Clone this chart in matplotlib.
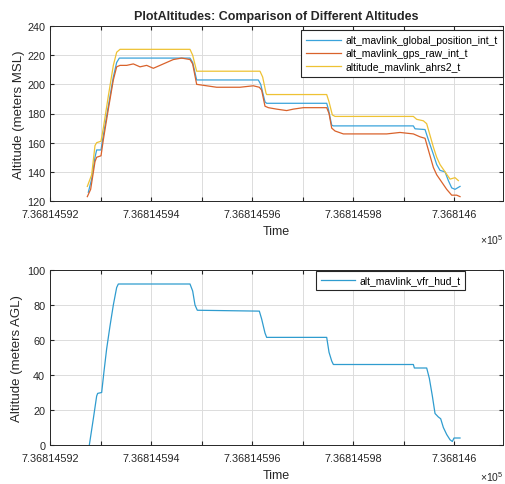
import matplotlib
matplotlib.use("Agg")
import matplotlib.pyplot as plt
import numpy as np

plt.rcParams['font.family'] = ['Liberation Sans', 'DejaVu Sans']
plt.rcParams['mathtext.fontset'] = 'custom'
plt.rcParams['mathtext.rm'] = 'Liberation Sans'
plt.rcParams['mathtext.it'] = 'Liberation Sans:italic'

T0 = 736814.592  # base datenum
# time offsets in thousandths of a day from T0
t_gpi = [0.759, 0.825, 0.891, 0.924, 1.010, 1.056, 1.155, 1.254, 1.320, 1.373, 2.772, 2.825, 2.904,
         4.125, 4.172, 4.257, 4.290, 5.479, 5.512, 5.578, 5.611, 7.195, 7.228, 7.426, 7.492, 7.591,
         7.657, 7.723, 7.822, 7.888, 7.954, 8.020, 8.119]
alt_gpi = [126, 135, 150, 155, 155, 165, 185, 205, 215, 218, 218, 215, 203,
           203, 200, 188, 187, 187, 183, 172, 171.5, 171.5, 169.5, 169, 162, 152,
           145, 141, 140, 134, 129, 128, 130]

t_gps = [0.739, 0.805, 0.891, 0.924, 1.010, 1.056, 1.155, 1.254, 1.320, 1.386, 1.518, 1.650, 1.782,
         1.914, 2.046, 2.178, 2.310, 2.442, 2.607, 2.772, 2.825, 2.904, 3.102, 3.300, 3.564, 3.762,
         4.026, 4.145, 4.191, 4.257, 4.323, 4.488, 4.686, 4.818, 5.017, 5.281, 5.479, 5.525, 5.578,
         5.644, 5.809, 6.139, 6.403, 6.667, 6.931, 7.195, 7.327, 7.426, 7.492, 7.591, 7.657, 7.756,
         7.855, 7.954, 8.053, 8.119]
alt_gps = [123, 128, 147, 150, 151, 162, 183, 203, 212, 213, 213, 214, 212,
           213, 211, 213, 215, 217, 218, 217, 214, 200, 199, 198, 198, 198,
           199, 198, 196, 185, 184, 183, 182, 183, 184, 184, 184, 180, 170,
           168, 166, 166, 166, 166, 167, 166, 164, 163, 155, 143, 138, 133,
           128, 124, 124, 123]

t_ahrs = [0.739, 0.825, 0.891, 0.924, 1.010, 1.056, 1.155, 1.254, 1.320, 1.386, 2.772, 2.825, 2.904,
          4.158, 4.211, 4.277, 4.290, 5.479, 5.525, 5.591, 5.644, 7.195, 7.261, 7.393, 7.459, 7.525,
          7.591, 7.657, 7.723, 7.822, 7.921, 8.020, 8.086]
alt_ahrs = [130, 138, 158, 160, 161, 170, 192, 213, 222, 224, 224, 220, 209,
            209, 205, 194, 193, 193, 188, 179, 178, 178, 176, 175, 173, 165,
            157, 150, 145, 140, 135, 136, 134]

t_hud = [0.779, 0.858, 0.924, 0.944, 1.023, 1.069, 1.122, 1.188, 1.254, 1.320, 1.353, 2.772, 2.825,
         2.871, 2.917, 4.145, 4.191, 4.257, 4.290, 5.479, 5.525, 5.578, 5.611, 7.195, 7.215, 7.459,
         7.512, 7.571, 7.624, 7.690, 7.736, 7.789, 7.855, 7.921, 7.967, 8.000, 8.119]
alt_hud = [0, 15, 28, 29.5, 30, 42, 55, 68, 80, 90, 92, 92, 88,
           80, 77, 76.5, 72, 64, 61.5, 61.5, 53, 48, 46, 46, 44, 44,
           38, 28, 18, 16, 15, 10, 6, 3, 2, 4, 4]

labels_top = ['alt_mavlink_global_position_int_t', 'alt_mavlink_gps_raw_int_t', 'altitude_mavlink_ahrs2_t']
label_bot = 'alt_mavlink_vfr_hud_t'
xtick_vals = [0, 1, 2, 3, 4, 5, 6, 7, 8]
xtick_labels = ['7.36814592', '', '7.36814594', '', '7.36814596', '', '7.36814598', '', '7.368146']

colors = ['#3aa3db', '#d9622b', '#eec234']
hud_color = '#2f9ccf'

fig = plt.figure(figsize=(5.05, 4.85), dpi=100)
ax1 = fig.add_axes([50/505, 1-202/485, 453/505, 175/485])
ax2 = fig.add_axes([50/505, 1-446/485, 453/505, 175/485])

def tt(a):
    return T0 + np.array(a) * 1e-3

ax1.plot(tt(t_gpi), alt_gpi, color=colors[0], lw=0.9, label=labels_top[0])
ax1.plot(tt(t_gps), alt_gps, color=colors[1], lw=0.9, label=labels_top[1])
ax1.plot(tt(t_ahrs), alt_ahrs, color=colors[2], lw=0.9, label=labels_top[2])
ax2.plot(tt(t_hud), alt_hud, color=hud_color, lw=0.9, label=label_bot)

xmin = T0
xmax = T0 + 8.97e-3
for ax, off, xl, yl in ((ax1, -0.215, -0.171, -0.068), (ax2, -0.18, -0.171, -0.073)):
    ax.set_xlim(xmin, xmax)
    ax.set_xticks(tt(xtick_vals))
    ax.set_xticklabels(xtick_labels)
    ax.grid(True, color='#dcdcdc', lw=0.7)
    ax.set_axisbelow(True)
    ax.tick_params(direction='in', length=3, labelsize=7.8, colors='#262626', top=True, right=True,
                   labeltop=False, labelright=False)
    ax.tick_params(axis='x', pad=6)
    ax.tick_params(axis='y', pad=3.5)
    for s in ax.spines.values():
        s.set_color('#262626')
        s.set_linewidth(0.7)
    ax.set_xlabel('Time', fontsize=9, color='#262626', va='center')
    ax.xaxis.set_label_coords(0.5, xl)
    ax.yaxis.set_label_coords(yl, 0.5)
    ax.text(1.0, off, r'$\times\mathrm{10}^{5}$', transform=ax.transAxes, ha='right', va='center',
            fontsize=7.5, color='#262626')

ax1.set_ylim(120, 240)
ax1.set_yticks(np.arange(120, 241, 20))
ax1.set_ylabel('Altitude (meters MSL)', fontsize=9.5, color='#262626', va='center')
ax1.set_title('PlotAltitudes: Comparison of Different Altitudes', fontsize=9, fontweight='bold',
              color='#262626', pad=5)
leg1 = ax1.legend(loc='upper right', bbox_to_anchor=(1.0, 0.98), fontsize=7.5, fancybox=False,
                  framealpha=1, edgecolor='#262626', borderpad=0.55, labelspacing=0.3,
                  handlelength=3.3, handletextpad=0.4, borderaxespad=0.0)
leg1.get_frame().set_linewidth(0.8)

ax2.set_ylim(0, 100)
ax2.set_yticks(np.arange(0, 101, 20))
ax2.set_ylabel('Altitude (meters AGL)', fontsize=9.5, color='#262626', va='center')
leg2 = ax2.legend(loc='upper right', bbox_to_anchor=(0.916, 0.995), fontsize=7.5, fancybox=False,
                  framealpha=1, edgecolor='#262626', borderpad=0.45, handlelength=3.3,
                  handletextpad=0.4, borderaxespad=0.0)
leg2.get_frame().set_linewidth(0.8)

fig.savefig('out.png', dpi=100)
